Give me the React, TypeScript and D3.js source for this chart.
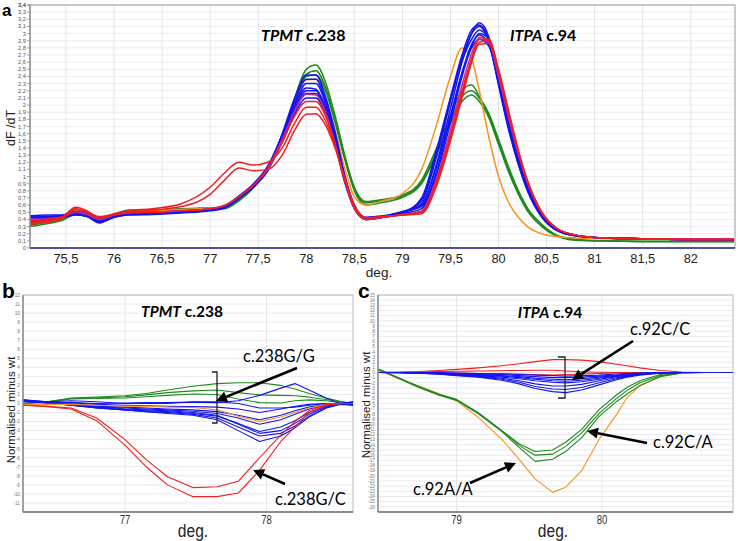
import React from 'react';
import * as d3 from 'd3';

// ---------- Panel a : melting curves (dF/dT) ----------
const xA = [75.13, 75.3, 75.45, 75.6, 75.72, 75.85, 76.0, 76.15, 76.4, 76.7, 77.0, 77.15, 77.3, 77.45, 77.6, 77.75, 77.88, 78.0, 78.1, 78.2, 78.3, 78.4, 78.5, 78.62, 78.8, 79.0, 79.2, 79.35, 79.5, 79.62, 79.72, 79.8, 79.9, 80.0, 80.1, 80.2, 80.3, 80.45, 80.6, 80.8, 81.1, 81.5, 82.0, 82.45];

const greenA = [
  [0.32,0.36,0.40,0.48,0.45,0.40,0.46,0.52,0.52,0.54,0.55,0.55,0.66,0.84,1.1,1.55,2.1,2.5,2.56,2.32,1.85,1.3,0.85,0.65,0.68,0.74,0.95,1.38,1.85,2.2,2.28,2.12,1.85,1.48,1.1,0.8,0.55,0.32,0.18,0.12,0.1,0.09,0.09,0.09],
  [0.30,0.34,0.38,0.47,0.44,0.42,0.47,0.53,0.53,0.54,0.56,0.56,0.67,0.85,1.1,1.52,2.05,2.43,2.48,2.25,1.8,1.27,0.82,0.63,0.67,0.73,0.92,1.32,1.75,2.05,2.14,2.05,1.82,1.45,1.08,0.77,0.52,0.3,0.17,0.11,0.1,0.09,0.09,0.09],
  [0.34,0.37,0.41,0.49,0.46,0.41,0.46,0.52,0.53,0.55,0.56,0.56,0.68,0.86,1.12,1.55,2.05,2.4,2.42,2.2,1.75,1.24,0.8,0.6,0.64,0.71,0.9,1.3,1.78,2.12,2.2,2.1,1.88,1.52,1.15,0.82,0.56,0.33,0.18,0.12,0.1,0.09,0.09,0.09],
];
const orangeA = [
  [0.36,0.38,0.42,0.52,0.48,0.42,0.47,0.51,0.52,0.54,0.56,0.58,0.7,0.87,1.12,1.58,2.05,2.35,2.36,2.1,1.65,1.12,0.72,0.6,0.66,0.76,1.1,1.7,2.4,2.8,2.65,2.2,1.55,1.0,0.65,0.44,0.3,0.2,0.16,0.14,0.13,0.13,0.13,0.13],
];
const blueA = [
  [0.44,0.44,0.45,0.50,0.47,0.40,0.46,0.49,0.49,0.51,0.54,0.58,0.72,0.88,1.12,1.6,2.1,2.42,2.42,2.12,1.62,1.02,0.6,0.43,0.45,0.5,0.6,1.15,1.95,2.6,3.0,3.15,2.95,2.35,1.75,1.25,0.85,0.45,0.26,0.17,0.14,0.13,0.12,0.12],
  [0.40,0.42,0.44,0.49,0.46,0.36,0.44,0.47,0.48,0.50,0.53,0.57,0.70,0.86,1.08,1.55,2.0,2.3,2.3,2.02,1.55,0.98,0.58,0.41,0.44,0.5,0.65,1.25,2.05,2.65,3.0,3.1,2.88,2.28,1.68,1.2,0.8,0.43,0.25,0.17,0.14,0.13,0.12,0.12],
  [0.45,0.46,0.46,0.51,0.48,0.42,0.47,0.50,0.50,0.52,0.55,0.59,0.73,0.9,1.15,1.58,2.0,2.24,2.22,1.96,1.5,0.95,0.56,0.4,0.43,0.49,0.7,1.35,2.1,2.62,2.92,3.05,2.9,2.35,1.78,1.28,0.86,0.47,0.27,0.18,0.14,0.13,0.12,0.12],
  [0.38,0.40,0.42,0.47,0.44,0.35,0.43,0.46,0.47,0.49,0.52,0.56,0.69,0.85,1.1,1.5,1.92,2.16,2.16,1.92,1.48,0.94,0.56,0.41,0.44,0.51,0.58,1.05,1.82,2.45,2.85,2.98,2.85,2.32,1.76,1.27,0.86,0.46,0.27,0.18,0.14,0.13,0.12,0.12],
  [0.42,0.43,0.44,0.48,0.45,0.38,0.45,0.48,0.48,0.50,0.53,0.57,0.71,0.87,1.1,1.48,1.88,2.1,2.1,1.88,1.45,0.92,0.55,0.4,0.43,0.48,0.55,1.0,1.75,2.4,2.82,3.0,2.92,2.42,1.85,1.33,0.9,0.48,0.28,0.18,0.14,0.13,0.12,0.12],
  [0.36,0.39,0.42,0.46,0.44,0.37,0.43,0.47,0.48,0.50,0.53,0.57,0.71,0.88,1.12,1.58,2.05,2.36,2.36,2.06,1.58,1.0,0.59,0.42,0.44,0.5,0.68,1.3,2.1,2.7,3.05,3.12,2.9,2.3,1.7,1.2,0.82,0.44,0.25,0.17,0.14,0.13,0.12,0.12],
  [0.43,0.44,0.45,0.49,0.47,0.41,0.46,0.49,0.49,0.51,0.54,0.58,0.72,0.88,1.12,1.52,1.95,2.2,2.2,1.95,1.5,0.96,0.57,0.41,0.44,0.5,0.62,1.12,1.85,2.45,2.8,2.92,2.82,2.33,1.78,1.3,0.88,0.47,0.27,0.18,0.14,0.13,0.12,0.12],
];
const redA = [
  [0.35,0.38,0.42,0.57,0.52,0.42,0.48,0.52,0.55,0.62,0.85,1.05,1.2,1.16,1.2,1.4,1.75,1.97,1.97,1.78,1.42,0.98,0.6,0.42,0.44,0.46,0.48,0.85,1.5,2.1,2.6,2.88,2.9,2.5,1.95,1.4,0.95,0.5,0.28,0.18,0.14,0.13,0.12,0.12],
  [0.33,0.36,0.40,0.54,0.50,0.44,0.47,0.50,0.53,0.58,0.75,0.95,1.12,1.08,1.1,1.3,1.65,1.87,1.88,1.72,1.4,0.97,0.6,0.42,0.44,0.46,0.5,0.9,1.55,2.15,2.62,2.85,2.86,2.45,1.9,1.37,0.93,0.49,0.28,0.18,0.14,0.13,0.12,0.12],
  [0.38,0.40,0.43,0.55,0.5,0.42,0.47,0.5,0.5,0.52,0.55,0.6,0.72,0.88,1.1,1.48,1.85,2.05,2.05,1.85,1.45,0.94,0.56,0.4,0.43,0.47,0.5,0.92,1.58,2.2,2.65,2.92,2.92,2.48,1.92,1.38,0.94,0.5,0.28,0.18,0.14,0.13,0.12,0.12],
];
const magentaA = [
  [0.40,0.41,0.43,0.50,0.47,0.40,0.46,0.49,0.5,0.52,0.55,0.59,0.72,0.88,1.12,1.52,1.92,2.15,2.14,1.9,1.46,0.94,0.56,0.4,0.43,0.47,0.52,0.95,1.65,2.28,2.72,2.95,2.88,2.4,1.85,1.34,0.92,0.49,0.28,0.18,0.14,0.13,0.13,0.13],
];
const aXTicks = [75.5, 76, 76.5, 77, 77.5, 78, 78.5, 79, 79.5, 80, 80.5, 81, 81.5, 82];
const aYTicks = d3.range(0, 35).map(i => +(i / 10).toFixed(1));

// ---------- Panel b : TPMT c.238 difference curves ----------
const xB = [76.28, 76.45, 76.62, 76.8, 77.0, 77.15, 77.3, 77.48, 77.65, 77.8, 77.95, 78.1, 78.2, 78.3, 78.42, 78.52, 78.61];
const greenB = [
  [0,0.2,0.6,0.7,0.85,1.1,1.5,1.9,2.2,2.3,2.3,2.0,1.6,1.1,0.6,0.25,0],
  [0,0.2,0.55,0.6,0.75,0.95,1.2,1.4,1.5,1.2,0.95,0.9,0.85,0.7,0.45,0.2,0],
  [0,0.15,0.5,0.55,0.6,0.75,0.9,1.05,1.0,0.5,0.1,0.05,0.3,0.4,0.3,0.1,0],
];
const blueB = [
  [0.3,0.1,0.1,0,0.05,0.1,0.1,0.15,0.1,0.3,0.9,1.7,2.2,1.5,0.6,0.0,-0.2],
  [0.4,0.2,0.1,-0.1,-0.2,-0.25,-0.3,-0.35,-0.4,-0.6,-1.0,-0.6,-0.3,-0.1,0,0,0.1],
  [0.3,0.1,-0.1,-0.3,-0.4,-0.5,-0.6,-0.7,-0.9,-1.3,-1.8,-1.3,-0.8,-0.4,-0.1,0,0.2],
  [0.2,0.05,-0.2,-0.4,-0.5,-0.6,-0.7,-0.85,-1.1,-1.6,-2.3,-1.8,-1.2,-0.6,-0.2,0,-0.1],
  [0.35,0.1,-0.2,-0.5,-0.7,-0.8,-0.9,-1.1,-1.4,-2.2,-3.1,-2.6,-1.9,-1.0,-0.3,0,0],
  [0.4,0.2,0,-0.3,-0.6,-0.7,-0.8,-1.0,-1.3,-2.3,-3.3,-3.0,-2.2,-1.2,-0.4,0,0.2],
  [0.25,0.05,-0.2,-0.5,-0.7,-0.9,-1.0,-1.2,-1.6,-2.6,-3.6,-3.3,-2.5,-1.4,-0.5,-0.1,-0.2],
  [0.3,0.1,-0.15,-0.45,-0.7,-0.9,-1.1,-1.3,-1.8,-3.0,-4.2,-3.6,-2.7,-1.5,-0.5,0,0],
  [0.3,0.2,0.3,0.2,0,0,0,0.2,0.2,0.0,-0.5,-0.5,-0.4,-0.2,0,0,0],
];
const orangeB = [
  [-0.1,-0.1,-0.1,-0.2,-0.3,-0.3,-0.4,-0.45,-0.7,-1.4,-2.0,-1.5,-1.0,-0.5,-0.1,0,0],
];
const redB = [
  [-0.2,-0.3,-0.5,-1.6,-4.0,-6.2,-8.1,-9.3,-9.2,-8.6,-6.0,-3.5,-2.0,-0.8,-0.1,0,0],
  [-0.2,-0.35,-0.6,-1.9,-4.6,-7.0,-9.0,-10.3,-10.3,-9.9,-7.4,-4.2,-2.6,-1.0,-0.2,0,0],
];
const bXTicks = [77, 78];
const bYTicks = d3.range(-11, 13);

// ---------- Panel c : ITPA c.94 difference curves ----------
const xC = [78.46, 78.6, 78.74, 78.88, 79.0, 79.15, 79.31, 79.43, 79.54, 79.66, 79.75, 79.86, 79.98, 80.1, 80.17, 80.26, 80.4, 80.55, 80.7, 80.9];
const orangeC = [
  [0.6,-1.2,-2.6,-4.1,-5.5,-8.7,-12.9,-16.8,-20.6,-23.2,-22.2,-19.0,-12.9,-8.1,-4.9,-2.6,-0.7,-0.1,0,0],
];
const greenC = [
  [0.7,-1.0,-2.7,-4.2,-5.2,-7.8,-11.2,-13.8,-15.3,-15.0,-13.5,-11.0,-7.2,-4.3,-2.9,-1.6,-0.4,0,0,0],
  [0.7,-1.0,-2.8,-4.3,-5.3,-7.9,-11.3,-14.1,-16.0,-15.8,-14.3,-11.7,-7.9,-5.0,-3.5,-2.0,-0.6,-0.1,0,0],
  [0.7,-1.1,-2.9,-4.4,-5.4,-8.0,-11.4,-14.5,-17.2,-16.8,-15.3,-12.6,-8.5,-5.6,-4.2,-2.5,-0.8,-0.1,0,0],
];
const blueC = [
  [0,0,0,0,-0.1,-0.2,-0.3,-0.4,-0.5,-0.6,-0.7,-0.6,-0.5,-0.3,-0.2,-0.1,0,0,0,0],
  [0,0,0,-0.1,-0.2,-0.3,-0.4,-0.6,-0.8,-1.0,-1.0,-0.9,-0.7,-0.5,-0.3,-0.2,-0.05,0,0,0],
  [0,0,-0.1,-0.2,-0.3,-0.4,-0.6,-0.8,-1.1,-1.3,-1.4,-1.2,-0.9,-0.6,-0.4,-0.2,-0.05,0,0,0],
  [0,0,-0.1,-0.2,-0.3,-0.5,-0.7,-1.0,-1.3,-1.6,-1.7,-1.5,-1.1,-0.7,-0.5,-0.3,-0.1,0,0,0],
  [0,0,-0.1,-0.2,-0.4,-0.6,-0.9,-1.2,-1.6,-1.9,-2.0,-1.8,-1.3,-0.8,-0.6,-0.3,-0.1,0,0,0],
  [0,-0.05,-0.1,-0.3,-0.5,-0.7,-1.1,-1.6,-2.2,-2.6,-2.6,-2.3,-1.6,-1.0,-0.7,-0.4,-0.1,0,0,0],
  [0,-0.05,-0.15,-0.3,-0.5,-0.8,-1.3,-1.9,-2.7,-3.2,-3.3,-2.9,-2.0,-1.2,-0.8,-0.4,-0.1,0,0,0],
  [0,-0.05,-0.15,-0.35,-0.6,-0.9,-1.5,-2.2,-3.1,-3.7,-3.9,-3.4,-2.4,-1.4,-0.9,-0.5,-0.15,0,0,0],
];
const redC = [
  [0,0.1,0.2,0.4,0.6,0.9,1.3,1.7,2.1,2.5,2.5,2.4,2.1,1.6,1.3,0.9,0.4,0.1,0,0],
  [0,0,0.1,0.2,0.25,0.3,0.35,0.4,0.45,0.45,0.3,0.15,0.05,0,0,0,0,0,0,0],
  [0.1,0,0,-0.1,-0.1,-0.2,-0.2,-0.3,-0.4,-0.5,-0.4,-0.3,-0.2,-0.1,-0.05,0,0,0,0,0],
];
const cXTicks = [79, 80];
const cYTicks = d3.range(-26, 16);

const BLUE = '#1414f0';
const RED = '#f01e1e';
const GREEN = '#1e8a1e';
const ORANGE = '#f7931e';
const MAGENTA = '#c42a9a';

const TXT = "'Liberation Sans', Arial, sans-serif";
const CAL = "Lato, 'Open Sans', sans-serif";

const comma = (v: number) => String(v).replace('.', ',');

function Curves({ xs, sets, x, y, curve, width }: any) {
  const line = d3.line<number>().x((_, i) => x(xs[i])).y(d => y(d)).curve(curve);
  return (
    <g>
      {sets.map(([arr, color]: any, si: number) =>
        arr.map((vals: number[], i: number) => (
          <path key={si + '-' + i} d={line(vals) || ''} fill="none" stroke={color} strokeWidth={width} strokeLinejoin="round" />
        ))
      )}
    </g>
  );
}

function Arrow({ x1, y1, x2, y2 }: any) {
  const ang = Math.atan2(y2 - y1, x2 - x1);
  const L = 11, W = 5.5;
  const bx = x2 - L * Math.cos(ang), by = y2 - L * Math.sin(ang);
  const px = -Math.sin(ang) * W, py = Math.cos(ang) * W;
  return (
    <g>
      <line x1={x1} y1={y1} x2={bx} y2={by} stroke="#000" strokeWidth={2.6} />
      <polygon points={`${x2},${y2} ${bx + px},${by + py} ${bx - px},${by - py}`} fill="#000" />
    </g>
  );
}

function PanelA() {
  const L = 30, R = 735, T = 5, B = 248;
  const x = d3.scaleLinear().domain([75.126, 82.46]).range([L, R]);
  const y = d3.scaleLinear().domain([0, 3.4]).range([B, T]);
  return (
    <g>
      {aYTicks.map(t => (
        <line key={'gy' + t} x1={L} x2={R} y1={y(t)} y2={y(t)} stroke="#ededf2" strokeWidth={1} />
      ))}
      {aXTicks.map(t => (
        <line key={'gx' + t} x1={x(t)} x2={x(t)} y1={T} y2={B} stroke="#e2e2ea" strokeWidth={1} />
      ))}
      <rect x={L} y={T} width={R - L} height={B - T} fill="none" stroke="#9a9a9a" strokeWidth={1} />
      <Curves xs={xA} x={x} y={y} curve={d3.curveMonotoneX} width={1.5}
        sets={[[greenA, GREEN], [orangeA, ORANGE], [blueA, BLUE], [magentaA, MAGENTA], [redA, RED]]} />
      <line x1={L} x2={R} y1={B} y2={B} stroke="#2b2b8c" strokeWidth={1.6} />
      <line x1={L} x2={L} y1={T} y2={B} stroke="#8a8a8a" strokeWidth={1.2} />
      {aYTicks.concat([3.4]).map(t => (
        <g key={'ty' + t}>
          <line x1={L - 3} x2={L} y1={y(t)} y2={y(t)} stroke="#8a8a8a" strokeWidth={0.8} />
          <text x={L - 4} y={y(t) + 2} fontSize={5.8} textAnchor="end" fill="#555" fontFamily={TXT}>{comma(t)}</text>
        </g>
      ))}
      {aXTicks.map(t => (
        <text key={'tx' + t} transform={`translate(${x(t)},${263}) scale(0.95,1)`} fontSize={13.5} textAnchor="middle" fill="#222" fontFamily={TXT}>{comma(t)}</text>
      ))}
      <text x={379} y={277} fontSize={13.5} textAnchor="middle" fill="#222" fontFamily={TXT}>deg.</text>
      <text transform={`translate(15,128) rotate(-90)`} fontSize={12.5} textAnchor="middle" fill="#222" fontFamily={TXT}>dF /dT</text>
      <text x={261} y={41} fontSize={16} fontWeight="bold" fontFamily={CAL} fill="#000">
        <tspan fontStyle="italic">TPMT</tspan> c.238
      </text>
      <text x={510} y={41} fontSize={16} fontWeight="bold" fontFamily={CAL} fill="#000">
        <tspan fontStyle="italic">ITPA</tspan> c.94
      </text>
      <text x={2} y={16} fontSize={17} fontWeight="bold" fontFamily={TXT} fill="#000">a</text>
    </g>
  );
}

function DiffPanel({ L, R, T, B, xDom, yDom, xs, sets, xTicks, yTicks }: any) {
  const x = d3.scaleLinear().domain(xDom).range([L, R]);
  const y = d3.scaleLinear().domain(yDom).range([B, T]);
  const gridY = d3.range(yDom[0], yDom[1] + 1);
  return (
    <g>
      {gridY.map((t: number) => (
        <line key={'g' + t} x1={L} x2={R} y1={y(t)} y2={y(t)} stroke="#e9e9ee" strokeWidth={1} />
      ))}
      {xTicks.map((t: number) => (
        <line key={'gx' + t} x1={x(t)} x2={x(t)} y1={T} y2={B} stroke="#e6e6ec" strokeWidth={1} />
      ))}
      <rect x={L} y={T} width={R - L} height={B - T} fill="none" stroke="#b8b8b8" strokeWidth={1} />
      <Curves xs={xs} x={x} y={y} curve={d3.curveLinear} width={1.1} sets={sets} />
      <line x1={L} x2={R} y1={B} y2={B} stroke="#8c8c8c" strokeWidth={2} />
      <line x1={L} x2={L} y1={T} y2={B} stroke="#8c8c8c" strokeWidth={1.5} />
      {yTicks.map((t: number) => (
        <text key={'ty' + t} x={L - 3} y={y(t) + 1.8} fontSize={4.8} textAnchor="end" fill="#777" fontFamily={TXT}>{t}</text>
      ))}
      {xTicks.map((t: number) => (
        <text key={'tx' + t} transform={`translate(${x(t)},${B + 12}) scale(0.8,1)`} fontSize={12} textAnchor="middle" fill="#333" fontFamily={TXT}>{t}</text>
      ))}
    </g>
  );
}

export default function App() {
  return (
    <svg width={738} height={541} viewBox="0 0 738 541" style={{ position: 'absolute', left: 0, top: 0, background: '#fff' }}>
      <rect x={0} y={0} width={738} height={541} fill="#fff" />
      <PanelA />
      {/* Panel b */}
      <DiffPanel L={23} R={353} T={295} B={512} xDom={[76.28, 78.61]} yDom={[-12, 12]} xs={xB}
        sets={[[greenB, GREEN], [blueB, BLUE], [orangeB, ORANGE], [redB, RED]]} xTicks={bXTicks} yTicks={bYTicks} />
      <text transform="translate(193,537) scale(0.82,1)" fontSize={19} textAnchor="middle" fill="#222" fontFamily={TXT}>deg.</text>
      <text transform="translate(15,410) rotate(-90)" fontSize={11.5} textAnchor="middle" fill="#222" fontFamily={TXT}>Normalised minus wt</text>
      <text x={182} y={317} fontSize={15.5} fontWeight="bold" fontFamily={CAL} textAnchor="middle" fill="#000">
        <tspan fontStyle="italic">TPMT</tspan> c.238
      </text>
      <text x={2} y={298} fontSize={21} fontWeight="bold" fontFamily={TXT} fill="#000">b</text>
      <text x={243} y={362} fontSize={16.5} fontFamily={CAL} fill="#000">c.238G/G</text>
      <text x={275} y={505} fontSize={16.5} fontFamily={CAL} fill="#000">c.238G/C</text>
      <path d="M212,372 L217,372 L217,423 L212,423" fill="none" stroke="#222" strokeWidth={1.3} />
      <Arrow x1={297} y1={368} x2={216} y2={401} />
      <Arrow x1={285} y1={484} x2={253} y2={470} />

      {/* Panel c */}
      <DiffPanel L={378} R={733} T={295} B={512} xDom={[78.46, 80.9]} yDom={[-27, 15]} xs={xC}
        sets={[[orangeC, ORANGE], [greenC, GREEN], [redC, RED], [blueC, BLUE]]} xTicks={cXTicks} yTicks={cYTicks} />
      <text transform="translate(553,537) scale(0.82,1)" fontSize={19} textAnchor="middle" fill="#222" fontFamily={TXT}>deg.</text>
      <text transform="translate(370,405) rotate(-90)" fontSize={11.5} textAnchor="middle" fill="#222" fontFamily={TXT}>Normalised minus wt</text>
      <text x={550} y={318} fontSize={15.5} fontWeight="bold" fontFamily={CAL} textAnchor="middle" fill="#000">
        <tspan fontStyle="italic">ITPA</tspan> c.94
      </text>
      <text x={358} y={298} fontSize={21} fontWeight="bold" fontFamily={TXT} fill="#000">c</text>
      <text x={630} y={335} fontSize={16.5} fontFamily={CAL} fill="#000">c.92C/C</text>
      <text x={653} y={448} fontSize={16.5} fontFamily={CAL} fill="#000">c.92C/A</text>
      <text x={413} y={495} fontSize={16.5} fontFamily={CAL} fill="#000">c.92A/A</text>
      <path d="M558,357 L565,357 L565,398 L558,398" fill="none" stroke="#222" strokeWidth={1.3} />
      <Arrow x1={633} y1={341} x2={572} y2={380} />
      <Arrow x1={647} y1={443} x2={587} y2={431} />
      <Arrow x1={470} y1={483} x2={516} y2={463} />
    </svg>
  );
}
